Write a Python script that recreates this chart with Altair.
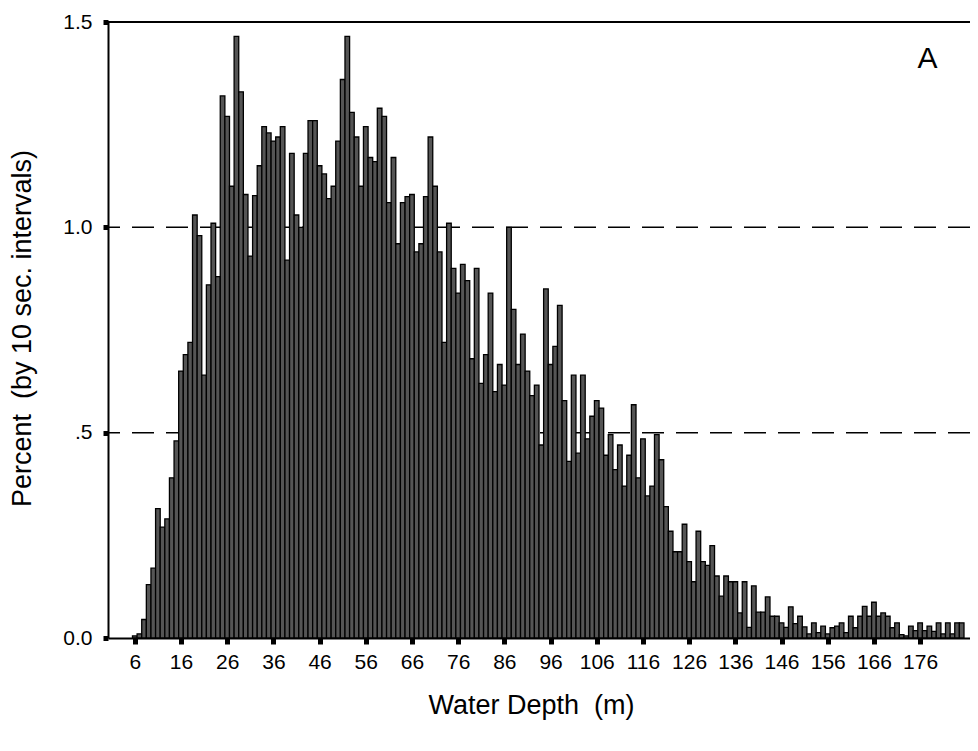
import altair as alt
import pandas as pd

# Histogram bins (1 m water-depth classes) and percent of 10-s intervals
depth_m = list(range(6, 186))
percent = [
    0.005, 0.01, 0.045, 0.13, 0.17, 0.315, 0.27, 0.29, 0.39, 0.48,      # 6-15
    0.65, 0.69, 0.72, 1.03, 0.98, 0.64, 0.86, 1.01, 0.88, 1.32,         # 16-25
    1.27, 1.10, 1.465, 1.33, 1.08, 0.93, 1.077, 1.15, 1.245, 1.23,      # 26-35
    1.21, 1.22, 1.245, 0.92, 1.18, 1.03, 1.00, 1.18, 1.26, 1.26,        # 36-45
    1.15, 1.13, 1.07, 1.10, 1.21, 1.36, 1.465, 1.28, 1.22, 1.10,        # 46-55
    1.245, 1.17, 1.16, 1.29, 1.27, 1.06, 1.17, 0.96, 1.06, 1.075,       # 56-65
    1.08, 0.94, 0.96, 1.075, 1.22, 1.10, 0.94, 0.72, 1.01, 0.90,        # 66-75
    0.84, 0.91, 0.87, 0.68, 0.90, 0.62, 0.69, 0.84, 0.60, 0.666,        # 76-85
    0.616, 1.00, 0.80, 0.666, 0.74, 0.65, 0.59, 0.616, 0.47, 0.85,      # 86-95
    0.666, 0.71, 0.81, 0.578, 0.43, 0.64, 0.45, 0.64, 0.485, 0.54,      # 96-105
    0.578, 0.56, 0.445, 0.495, 0.41, 0.47, 0.37, 0.445, 0.568, 0.39,    # 106-115
    0.485, 0.346, 0.37, 0.495, 0.434, 0.32, 0.26, 0.21, 0.21, 0.277,    # 116-125
    0.186, 0.137, 0.26, 0.186, 0.177, 0.225, 0.151, 0.102, 0.151, 0.137,  # 126-135
    0.137, 0.061, 0.137, 0.026, 0.127, 0.063, 0.063, 0.10, 0.053, 0.053,   # 136-145
    0.037, 0.026, 0.076, 0.035, 0.053, 0.027, 0.01, 0.037, 0.013, 0.029,   # 146-155
    0.01, 0.025, 0.029, 0.037, 0.013, 0.053, 0.025, 0.053, 0.077, 0.053,   # 156-165
    0.087, 0.053, 0.061, 0.053, 0.025, 0.037, 0.008, 0.005, 0.029, 0.018,  # 166-175
    0.037, 0.018, 0.029, 0.016, 0.037, 0.01, 0.037, 0.01, 0.037, 0.037,   # 176-185
]
x_ticks = [6, 16, 26, 36, 46, 56, 66, 76, 86, 96, 106, 116, 126, 136, 146, 156, 166, 176]
y_ticks = [0.0, 0.5, 1.0, 1.5]
ref_levels = [0.5, 1.0]
panel_label = ["A"]

FONT = "Liberation Sans"

bars_df = pd.DataFrame({"depth": depth_m, "pct": percent})
bars_df["lo"] = bars_df["depth"] - 0.5
bars_df["hi"] = bars_df["depth"] + 0.5
bars_df["base"] = 0.0

xscale = alt.Scale(domain=[0.2, 186.8], nice=False, zero=False)
yscale = alt.Scale(domain=[0, 1.5], nice=False)

x_axis = alt.Axis(
    values=x_ticks, title="Water Depth\u00a0 (m)", grid=False,
    domainColor="black", domainWidth=2, tickColor="black", tickSize=6, tickWidth=5,
    labelFont=FONT, labelFontSize=21, labelColor="black", labelPadding=7,
    labelFlush=False, labelOverlap=False,
    titleFont=FONT, titleFontSize=27, titleFontWeight="normal", titleColor="black",
    titleX=423, titleY=75, titleAlign="center", titleBaseline="alphabetic",
)
y_axis = alt.Axis(
    values=y_ticks, title="Percent\u00a0 (by 10 sec. intervals)", grid=False,
    labelExpr="datum.value == 0.5 ? '.5' : format(datum.value, '.1f')",
    domainColor="black", domainWidth=2, tickColor="black", tickSize=5, tickWidth=5,
    labelFont=FONT, labelFontSize=21, labelColor="black", labelPadding=11,
    labelFlush=False, labelOverlap=False,
    titleFont=FONT, titleFontSize=27, titleFontWeight="normal", titleColor="black",
    titleX=-78, titleY=306, titleAngle=-90, titleAlign="center", titleBaseline="alphabetic",
)

refs = alt.Chart(pd.DataFrame({"y": ref_levels})).mark_rule(
    color="black", strokeWidth=1.5, strokeDash=[22, 12]
).encode(y=alt.Y("y:Q", scale=yscale, axis=y_axis))

bars = alt.Chart(bars_df).mark_bar(
    fill="#555555", stroke="#000000", strokeWidth=1.3
).encode(
    x=alt.X("lo:Q", scale=xscale, axis=x_axis),
    x2="hi:Q",
    y=alt.Y("pct:Q", scale=yscale, axis=y_axis),
    y2="base:Q",
)

top = alt.Chart(pd.DataFrame({"y": [1.5]})).mark_rule(
    color="black", strokeWidth=2
).encode(y=alt.Y("y:Q", scale=yscale))

label = alt.Chart(pd.DataFrame({"t": panel_label, "x": [177.6], "y": [1.41]})).mark_text(
    font=FONT, fontSize=30, color="black", align="center", baseline="middle"
).encode(x=alt.X("x:Q", scale=xscale), y=alt.Y("y:Q", scale=yscale), text="t:N")

chart = alt.layer(refs, bars, top, label).properties(
    width=862, height=616,
    autosize=alt.AutoSizeParams(type="none"),
    padding={"left": 100, "top": 14, "right": 0, "bottom": 100},
    background="white",
).configure_view(strokeWidth=0)

chart.save("out.html", embed_options={"renderer": "svg", "actions": False})
